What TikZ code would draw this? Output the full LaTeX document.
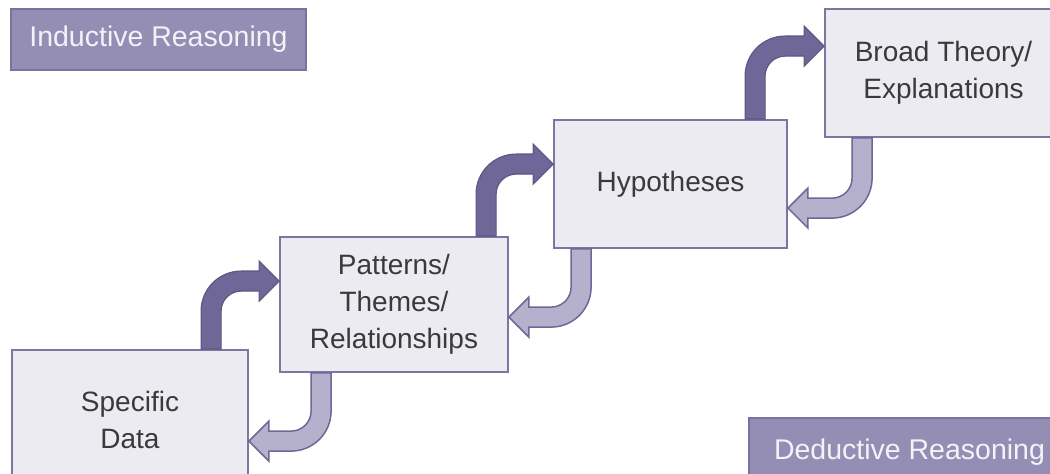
\documentclass[tikz,border=0pt]{standalone}
\usepackage{fontspec}
\setmainfont{Liberation Sans}
\usetikzlibrary{calc}

\definecolor{boxfill}{HTML}{EDEBF2}
\definecolor{boxline}{HTML}{7C76A0}
\definecolor{tagfill}{HTML}{948EB4}
\definecolor{tagline}{HTML}{7A729E}
\definecolor{tagtext}{HTML}{F3F2F7}
\definecolor{upfill}{HTML}{6F6797}
\definecolor{upline}{HTML}{5E5684}
\definecolor{downfill}{HTML}{B5B0CC}
\definecolor{downline}{HTML}{6F6797}
\definecolor{ink}{HTML}{3A3A3A}

% Bent block arrow: rises from #1 (top side of a box), turns right and ends at #2
\newcommand\bendup[3]{%
  \filldraw[#3] let \p1=#1, \p2=#2 in
    (\x1-10pt,\y1) -- (\x1-10pt,\y2-30pt) arc[start angle=180,end angle=90,radius=40pt]
    -- (\x2-20pt,\y2+10pt) -- (\x2-20pt,\y2+20pt) -- (\x2,\y2)
    -- (\x2-20pt,\y2-20pt) -- (\x2-20pt,\y2-10pt)
    -- (\x1+30pt,\y2-10pt) arc[start angle=90,end angle=180,radius=20pt]
    -- (\x1+10pt,\y1) -- cycle;}

% Bent block arrow: drops from #1 (bottom side of a box), turns left and ends at #2
\newcommand\benddown[3]{%
  \filldraw[#3] let \p1=#1, \p2=#2 in
    (\x1+10pt,\y1) -- (\x1+10pt,\y2+30pt) arc[start angle=0,end angle=-90,radius=40pt]
    -- (\x2+20pt,\y2-10pt) -- (\x2+20pt,\y2-20pt) -- (\x2,\y2)
    -- (\x2+20pt,\y2+20pt) -- (\x2+20pt,\y2+10pt)
    -- (\x1-30pt,\y2+10pt) arc[start angle=-90,end angle=0,radius=20pt]
    -- (\x1-10pt,\y1) -- cycle;}

\tikzset{
  stage/.style={draw=boxline, line width=1.8pt, fill=boxfill, text=ink,
    font=\fontsize{28}{37}\selectfont, align=center, inner sep=0pt},
  tag/.style={draw=tagline, line width=1.5pt, fill=tagfill, text=tagtext,
    font=\fontsize{28.5}{34}\selectfont, inner sep=0pt},
  upstyle/.style={fill=upfill, draw=upline, line width=1.2pt, line join=miter},
  downstyle/.style={fill=downfill, draw=downline, line width=1.5pt, line join=miter}
}

\begin{document}
\begin{tikzpicture}[x=1pt,y=1pt]
\useasboundingbox (0,0) rectangle (1050,474);
\clip (0,0) rectangle (1050,474);

% stages of the reasoning staircase
\node[stage, minimum width=236pt, minimum height=140pt] (sd)  at (130,54)    {Specific\\Data};
\node[stage, minimum width=228pt, minimum height=135pt] (pt)  at (394,169.5) {Patterns/\\Themes/\\Relationships};
\node[stage, minimum width=233pt, minimum height=128pt] (hyp) at (670.5,290) {Hypotheses};
\node[stage, minimum width=237pt, minimum height=128pt] (bt)  at (943.5,401) {Broad Theory/\\Explanations};

% direction labels
\node[tag, minimum width=295pt, minimum height=61pt] (ind) at (158.5,434.5) {Inductive Reasoning};
\node[tag, minimum width=321pt, minimum height=68pt] (ded) at (909.5,22)    {Deductive Reasoning};

% inductive steps (upwards)
\bendup{($(sd.north west)+(200pt,0)$)}{($(pt.north west)+(0,-45pt)$)}{upstyle}
\bendup{($(pt.north west)+(207pt,0)$)}{($(hyp.north west)+(0,-45pt)$)}{upstyle}
\bendup{($(hyp.north west)+(202pt,0)$)}{($(bt.north west)+(0,-38pt)$)}{upstyle}

% deductive steps (downwards)
\benddown{($(bt.south west)+(38pt,0)$)}{($(hyp.north east)+(0,-89pt)$)}{downstyle}
\benddown{($(hyp.south west)+(28pt,0)$)}{($(pt.north east)+(0,-81pt)$)}{downstyle}
\benddown{($(pt.south west)+(42pt,0)$)}{($(sd.north east)+(0,-92pt)$)}{downstyle}
\end{tikzpicture}
\end{document}
